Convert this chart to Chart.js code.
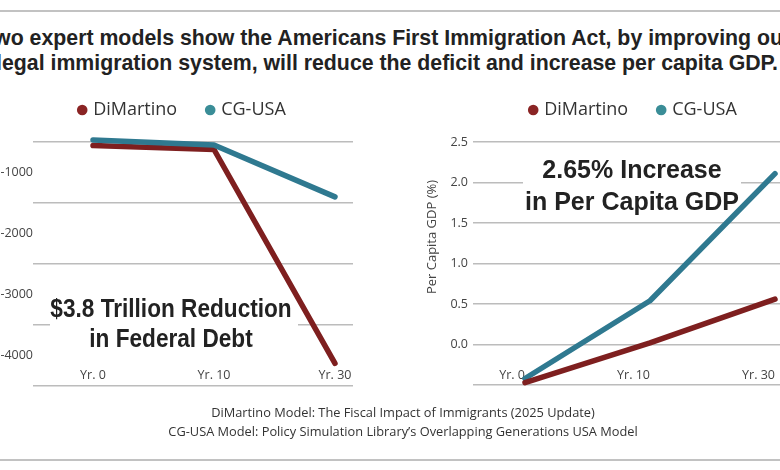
<!DOCTYPE html>
<html><head><meta charset="utf-8">
<script src="https://cdn.jsdelivr.net/npm/chart.js@4.4.1/dist/chart.umd.min.js"></script>
<style>
html,body{margin:0;padding:0;background:#fff;}
body{width:780px;height:470px;position:relative;overflow:hidden;}
.rule{position:absolute;left:0;width:780px;height:2px;background:#c2c2c2;}
.title{position:absolute;left:-213px;width:1200px;top:26px;text-align:center;font:bold 21.3px/25px 'Liberation Sans',Arial,sans-serif;color:#222;white-space:nowrap;}
.foot{position:absolute;left:3px;width:800px;top:403px;text-align:center;font:12.8px/19px 'Open Sans',sans-serif;color:#333;white-space:nowrap;}
#c1{position:absolute;left:-20px;top:70px;}
#c2{position:absolute;left:390px;top:70px;}
</style></head>
<body>
<div class="rule" style="top:10px"></div>
<div class="title">Two expert models show the Americans First Immigration Act, by improving our<br>legal immigration system, will reduce the deficit and increase per capita GDP.</div>
<canvas id="c1" width="406" height="336"></canvas>
<canvas id="c2" width="488" height="336"></canvas>
<div class="foot">DiMartino Model: The Fiscal Impact of Immigrants (2025 Update)<br>CG-USA Model: Policy Simulation Library’s Overlapping Generations USA Model</div>
<div class="rule" style="top:459px"></div>
<script>
// ---- data ----
const categories = ['Yr. 0', 'Yr. 10', 'Yr. 30'];
const seriesNames = ['DiMartino', 'CG-USA'];
const debtDiMartino = [-557, -623, -4130];
const debtCGUSA = [-467, -549, -1400];
const gdpDiMartino = [-0.47, 0.02, 0.56];
const gdpCGUSA = [-0.42, 0.54, 2.11];
const debtTicks = [-4500, -4000, -3500, -3000, -2500, -2000, -1500, -1000, -500];
const gdpTicks = [-0.5, 0, 0.5, 1, 1.5, 2, 2.5];
const debtNote = ['$3.8 Trillion Reduction', 'in Federal Debt'];
const gdpNote = ['2.65% Increase', 'in Per Capita GDP'];
const gdpAxisTitle = 'Per Capita GDP (%)';

// ---- styles ----
const RED = '#7e1f1f', RED_DOT = '#8a2424';
const BLUE = '#2f7990', BLUE_DOT = '#3a8d97';
const GRID = '#bcbcbc';
const TICKF = "'Open Sans', sans-serif";
const SANS = "'Liberation Sans', Arial, sans-serif";

Chart.defaults.animation = false;
Chart.defaults.events = [];

const toXY = arr => arr.map((v, i) => ({x: i, y: v}));

function legendHeight(h) {
  return { id: 'legendHeight', beforeLayout(chart) {
    const lg = chart.legend;
    if (lg && !lg._fixed) {
      const fit = lg.fit;
      lg.fit = function () { fit.call(this); this.height = h; };
      lg._fixed = true;
    }
  }};
}
function notePlugin(lines, box, cx, baselines, font, sx) {
  return { id: 'note', beforeDatasetsDraw(chart) {
    const ctx = chart.ctx; ctx.save();
    ctx.fillStyle = '#fff'; ctx.fillRect(box[0], box[1], box[2], box[3]);
    ctx.translate(cx, 0); ctx.scale(sx, 1);
    ctx.font = font; ctx.fillStyle = '#222'; ctx.textAlign = 'center'; ctx.textBaseline = 'alphabetic';
    lines.forEach((t, i) => ctx.fillText(t, 0, baselines[i]));
    ctx.restore();
  }};
}
function legendOpts() {
  return { display: true, position: 'top', align: 'center',
    labels: { usePointStyle: true, pointStyle: 'circle', boxWidth: 4, boxHeight: 7.5, padding: 31,
      color: '#333', font: { family: TICKF, size: 18 },
      sort: (a, b) => a.datasetIndex - b.datasetIndex,
      generateLabels: chart => Chart.defaults.plugins.legend.labels.generateLabels(chart)
        .map(l => Object.assign({}, l, { lineWidth: 0, strokeStyle: l.fillStyle })) } };
}
function xAxis(min, max, h, pad, align) {
  return { type: 'linear', min, max,
    afterBuildTicks: s => { s.ticks = categories.map((c, i) => ({ value: i })); },
    ticks: { callback: v => categories[v] ?? '', mirror: true, padding: pad, align, color: '#444', autoSkip: false, maxRotation: 0,
      font: { family: TICKF, size: 12.5 } },
    grid: { display: false, drawTicks: false }, border: { display: false },
    afterFit: s => { s.height = h; } };
}
function dataset(label, data, color, dot, order) {
  return { label, data: toXY(data), borderColor: color, backgroundColor: dot, borderWidth: 5.5,
    pointRadius: 0, pointHoverRadius: 0, tension: 0, clip: false, fill: false,
    borderCapStyle: 'round', borderJoinStyle: 'round', order };
}

new Chart(document.getElementById('c1'), {
  type: 'line',
  data: { datasets: [
    dataset(seriesNames[0], debtDiMartino, RED, RED_DOT, 1),
    dataset(seriesNames[1], debtCGUSA, BLUE, BLUE_DOT, 0) ] },
  options: { responsive: false, devicePixelRatio: 1, layout: { padding: 0 },
    plugins: { legend: legendOpts(), tooltip: { enabled: false } },
    scales: {
      x: xAxis(-0.496, 2.149, 20, 3, 'center'),
      y: { min: -4500, max: -500,
        afterBuildTicks: s => { s.ticks = debtTicks.map(v => ({ value: v })); },
        ticks: { callback: v => (v % 1000 === 0 ? String(v) : ''), padding: 0, color: '#444',
          font: { family: TICKF, size: 12.5 } },
        grid: { drawTicks: false, lineWidth: 1.5,
          color: c => (c.tick && c.tick.value % 1000 !== 0) ? GRID : 'rgba(0,0,0,0)' },
        border: { display: false }, afterFit: s => { s.width = 53; } },
      yR: { position: 'right', grid: { display: false }, ticks: { display: false }, border: { display: false },
        afterFit: s => { s.width = 33; } }
    } },
  plugins: [ legendHeight(72),
    notePlugin(debtNote, [70, 222, 248, 62], 191, [247, 277], 'bold 26px ' + SANS, 0.87) ]
});

new Chart(document.getElementById('c2'), {
  type: 'line',
  data: { datasets: [
    dataset(seriesNames[0], gdpDiMartino, RED, RED_DOT, 0),
    dataset(seriesNames[1], gdpCGUSA, BLUE, BLUE_DOT, 1) ] },
  options: { responsive: false, devicePixelRatio: 1, layout: { padding: 0 },
    plugins: { legend: legendOpts(), tooltip: { enabled: false } },
    scales: {
      x: xAxis(-0.416, 2.2, 21, 2, 'end'),
      y: { min: -0.5, max: 2.5,
        afterBuildTicks: s => { s.ticks = gdpTicks.map(v => ({ value: v })); },
        ticks: { callback: v => (v < 0 ? '' : v.toFixed(1)), padding: 5, color: '#444',
          font: { family: TICKF, size: 12.5 } },
        grid: { drawTicks: false, lineWidth: 1.5, color: GRID },
        border: { display: false }, afterFit: s => { s.width = 83; } },
      yR: { position: 'right', grid: { display: false }, ticks: { display: false }, border: { display: false },
        afterFit: s => { s.width = 78; } }
    } },
  plugins: [ legendHeight(72),
    notePlugin(gdpNote, [133, 82, 218, 65], 242, [108, 140], 'bold 25px ' + SANS, 1),
    { id: 'yTitle', afterDraw(chart) {
      const ctx = chart.ctx; ctx.save();
      ctx.translate(42, 167); ctx.rotate(-Math.PI / 2);
      ctx.font = '13px ' + TICKF; ctx.fillStyle = '#444';
      ctx.textAlign = 'center'; ctx.textBaseline = 'middle';
      ctx.fillText(gdpAxisTitle, 0, 0); ctx.restore();
    } } ]
});
</script>
</body></html>
